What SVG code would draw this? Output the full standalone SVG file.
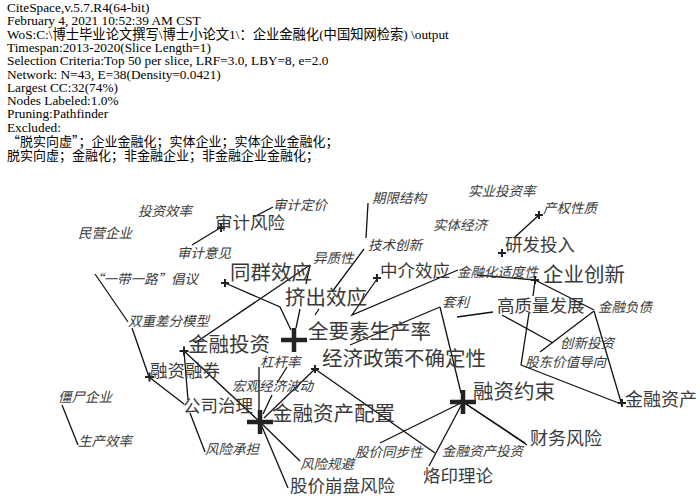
<svg xmlns="http://www.w3.org/2000/svg" width="700" height="499" viewBox="0 0 700 499">
<style>
.h{font-family:"Liberation Serif","Noto Sans CJK SC",serif;font-size:13.3px;fill:#000}
.q{font-family:"Noto Sans CJK SC",sans-serif}
.t{font-family:"Noto Sans CJK SC",sans-serif;fill:#3a3a3a}
.s{font-size:13.5px;font-style:italic}
.m{font-size:17.5px}
.l{font-size:20.5px}
.e{stroke:#111;stroke-width:1.3;fill:none}
.c{stroke:#222;stroke-width:2;fill:none}
.cb{stroke:#222;stroke-width:4.5;fill:none}
</style>
<rect width="700" height="499" fill="#fff"/>
<g id="header" class="h">
<text x="7" y="12">CiteSpace,v.5.7.R4(64-bit)</text>
<text x="7" y="25.3">February 4, 2021 10:52:39 AM CST</text>
<text x="7" y="38.6">WoS:C:\博士毕业论文撰写\博士小论文1\：企业金融化(中国知网检索) \output</text>
<text x="7" y="52">Timespan:2013-2020(Slice Length=1)</text>
<text x="7" y="65.2">Selection Criteria:Top 50 per slice, LRF=3.0, LBY=8, e=2.0</text>
<text x="7" y="78.5">Network: N=43, E=38(Density=0.0421)</text>
<text x="7" y="91.8">Largest CC:32(74%)</text>
<text x="7" y="105">Nodes Labeled:1.0%</text>
<text x="7" y="118.4">Pruning:Pathfinder</text>
<text x="7" y="131.7">Excluded:</text>
<text x="7" y="146" class="q" style="font-size:13px">“脱实向虚”；企业金融化；实体企业；实体企业金融化；</text>
<text x="7" y="159.5" class="q" style="font-size:13px">脱实向虚；金融化；非金融企业；非金融企业金融化；</text>
</g>
<g id="connectors" class="e">
<line x1="254" y1="217" x2="273" y2="207"/>
<line x1="192" y1="245" x2="220" y2="228"/>
<line x1="95" y1="274" x2="128" y2="322"/>
<line x1="132" y1="328" x2="149" y2="377"/>
<line x1="149" y1="377" x2="184" y2="404"/>
<line x1="184" y1="351" x2="188" y2="400"/>
<line x1="195" y1="343" x2="310" y2="265"/>
<line x1="310" y1="265" x2="306" y2="284"/>
<line x1="300" y1="309" x2="296" y2="328"/>
<polyline points="225,283 280,307 291,330"/>
<line x1="368" y1="203" x2="366" y2="238"/>
<line x1="364" y1="249" x2="332" y2="292"/>
<line x1="319" y1="309" x2="315" y2="315"/>
<polyline points="377,279 352,315 458,270"/>
<line x1="440" y1="307" x2="350" y2="345"/>
<line x1="440" y1="307" x2="461" y2="393"/>
<line x1="457" y1="317" x2="493" y2="312"/>
<line x1="477" y1="275" x2="535" y2="280"/>
<line x1="535" y1="281" x2="533" y2="296"/>
<line x1="529" y1="313" x2="521" y2="365"/>
<line x1="535" y1="280" x2="594" y2="310"/>
<line x1="594" y1="311" x2="621" y2="402"/>
<line x1="594" y1="311" x2="540" y2="352"/>
<line x1="502" y1="315" x2="553" y2="343"/>
<line x1="521" y1="365" x2="621" y2="404"/>
<line x1="463" y1="402" x2="527" y2="445"/>
<line x1="463" y1="402" x2="380" y2="443"/>
<line x1="463" y1="402" x2="429" y2="466"/>
<line x1="463" y1="402" x2="525" y2="443"/>
<line x1="315" y1="369" x2="435" y2="453"/>
<line x1="264" y1="418" x2="315" y2="369"/>
<line x1="263" y1="414" x2="272" y2="395"/>
<line x1="277" y1="383" x2="287" y2="367"/>
<polyline points="184,351 260,422 300,461"/>
<line x1="260" y1="422" x2="288" y2="488"/>
<line x1="259" y1="367" x2="259" y2="412"/>
<line x1="190" y1="413" x2="205" y2="452"/>
<line x1="62" y1="405" x2="78" y2="445"/>
<line x1="515" y1="237" x2="539" y2="215"/>
</g>
<g id="n-touzixiaolv"><text class="t s" x="138" y="216">投资效率</text></g>
<g id="n-shenjidingjia"><text class="t s" x="273" y="210">审计定价</text></g>
<g id="n-minying"><text class="t s" x="78" y="238">民营企业</text></g>
<g id="n-shenjiyijian"><text class="t s" x="177" y="258">审计意见</text></g>
<g id="n-yidaiyilu"><text class="t s" x="90" y="284">“一带一路”倡议</text></g>
<g id="n-qixianjiegou"><text class="t s" x="372" y="203">期限结构</text></g>
<g id="n-shiyetouzilv"><text class="t s" x="468" y="196">实业投资率</text></g>
<g id="n-shitijingji"><text class="t s" x="433" y="230">实体经济</text></g>
<g id="n-chanquan"><path class="c" d="M535 215h8M539 211v8"/><text class="t s" x="543" y="213">产权性质</text></g>
<g id="n-jishuchuangxin"><text class="t s" x="368" y="250">技术创新</text></g>
<g id="n-yizhixing"><text class="t s" x="313" y="263">异质性</text></g>
<g id="n-shiduxing"><text class="t s" x="457" y="277">金融化适度性</text></g>
<g id="n-taoli"><text class="t s" x="442" y="307">套利</text></g>
<g id="n-jinrongfuzhai"><text class="t s" x="598" y="312">金融负债</text></g>
<g id="n-chuangxintouzi"><text class="t s" x="560" y="348">创新投资</text></g>
<g id="n-shuangchongchafen"><text class="t s" x="128" y="326">双重差分模型</text></g>
<g id="n-ganganglv"><text class="t s" x="260" y="367">杠杆率</text></g>
<g id="n-gudong"><text class="t s" x="525" y="367">股东价值导向</text></g>
<g id="n-hongguan"><text class="t s" x="232" y="391">宏观经济波动</text></g>
<g id="n-jiangshi"><text class="t s" x="58" y="402">僵尸企业</text></g>
<g id="n-shengchanxiaolv"><text class="t s" x="78" y="446">生产效率</text></g>
<g id="n-fengxianchengdan"><text class="t s" x="205" y="454">风险承担</text></g>
<g id="n-tongbuxing"><text class="t s" x="355" y="457">股价同步性</text></g>
<g id="n-jinrongzichantouzi"><text class="t s" x="442" y="456">金融资产投资</text></g>
<g id="n-fengxianguibi"><text class="t s" x="300" y="469">风险规避</text></g>
<g id="n-shenjifengxian"><path class="c" d="M217 228h8M221 224v8"/><text class="t m" x="215" y="229">审计风险</text></g>
<g id="n-yanfatouru"><path class="c" d="M498 253h8M502 249v8"/><text class="t m" x="505" y="251">研发投入</text></g>
<g id="n-zhongjie"><path class="c" d="M373 278h8M377 274v8"/><text class="t m" x="380" y="277">中介效应</text></g>
<g id="n-gaozhiliang"><text class="t m" x="497" y="312">高质量发展</text></g>
<g id="n-rongzirongquan"><path class="c" d="M145 377h9M149.5 372.5v9"/><text class="t m" x="150" y="377">融资融券</text></g>
<g id="n-gongsizhili"><text class="t m" x="183" y="412">公司治理</text></g>
<g id="n-jinrongzichan"><path class="c" d="M618 403h8M622 399v8"/><text class="t m" x="625" y="406" style="font-size:18px">金融资产</text></g>
<g id="n-caiwufengxian"><text class="t m" x="530" y="445" style="font-size:18px">财务风险</text></g>
<g id="n-laoyin"><text class="t m" x="423" y="482">烙印理论</text></g>
<g id="n-bengpan"><text class="t m" x="290" y="492">股价崩盘风险</text></g>
<g id="n-tongqun"><path class="c" d="M221 283h8M225 279v8"/><text class="t l" x="230" y="280">同群效应</text></g>
<g id="n-qiyechuangxin"><path class="c" d="M531 280h8M535 276v8"/><text class="t l" x="543" y="282">企业创新</text></g>
<g id="n-jichu"><text class="t l" x="285" y="305">挤出效应</text></g>
<g id="n-quanyaosu"><path class="cb" d="M281 340h26M294 328v24"/><text class="t l" x="308" y="339">全要素生产率</text></g>
<g id="n-jinrongtouzi"><path class="c" d="M179.5 351h9M184 346.5v9"/><text class="t l" x="188" y="352">金融投资</text></g>
<g id="n-jingjizhengce"><path class="c" d="M311 369h8M315 365v8"/><text class="t l" x="322" y="366">经济政策不确定性</text></g>
<g id="n-rongziyueshu"><path class="cb" d="M450 402h26M463 390v24"/><text class="t l" x="473" y="399">融资约束</text></g>
<g id="n-peizhi"><path class="cb" d="M247 422h26M260 410v24"/><text class="t l" x="272" y="421">金融资产配置</text></g>
</svg>
